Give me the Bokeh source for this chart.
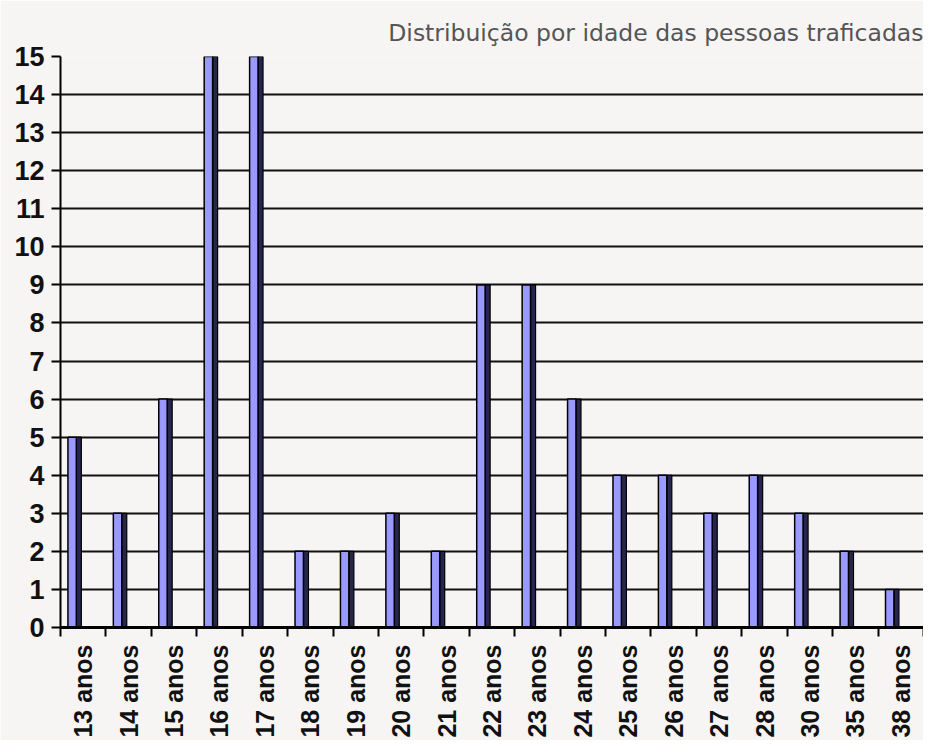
import numpy as np
from bokeh.plotting import figure
from bokeh.models import Range1d, FixedTicker
from bokeh.embed import file_html
from bokeh.resources import INLINE

title_text = "Distribuição por idade das pessoas traficadas"
categories = ["13 anos", "14 anos", "15 anos", "16 anos", "17 anos", "18 anos",
              "19 anos", "20 anos", "21 anos", "22 anos", "23 anos", "24 anos",
              "25 anos", "26 anos", "27 anos", "28 anos", "30 anos", "35 anos",
              "38 anos"]
counts = [5, 3, 6, 15, 15, 2, 2, 3, 2, 9, 9, 6, 4, 4, 3, 4, 3, 2, 1]
y_ticks = list(range(0, 16))

n = len(categories)
centers = np.arange(n) + 0.5

bg = "#f7f4f4"
p = figure(width=923, height=740, output_backend="svg", toolbar_location=None,
           x_range=Range1d(0, n), y_range=Range1d(0, 15),
           min_border_left=60, min_border_right=0, min_border_top=56,
           min_border_bottom=112)
p.background_fill_color = bg
p.border_fill_color = bg
p.outline_line_color = None

p.title.text = title_text
p.title.align = "right"
p.title.text_font = "DejaVu Sans"
p.title.text_font_style = "normal"
p.title.text_font_size = "23.5px"
p.title.text_color = "#555555"
p.title.offset = 0
p.title.standoff = 20

# side (depth) faces
p.vbar(x=centers - 0.096, top=counts, bottom=0, width=0.11,
       fill_color="#26264c", line_color="black", line_width=1.2)
# front faces
p.vbar(x=centers - 0.244, top=counts, bottom=0, width=0.185,
       fill_color="#9999ff", line_color="black", line_width=1.5)

# axes
xa = p.xaxis[0]
xa.ticker = FixedTicker(ticks=list(centers), minor_ticks=list(range(0, n + 1)))
xa.major_label_overrides = {float(c): lab for c, lab in zip(centers, categories)}
xa.major_label_orientation = np.pi / 2
xa.major_label_text_font = "Liberation Sans"
xa.major_label_text_font_style = "bold"
xa.major_label_text_font_size = "25px"
xa.major_label_text_color = "#111111"
xa.major_tick_out = 0
xa.major_tick_in = 0
xa.minor_tick_out = 9
xa.minor_tick_in = 0
xa.minor_tick_line_color = "black"
xa.minor_tick_line_width = 2
xa.axis_line_color = "black"
xa.axis_line_width = 3
xa.major_label_standoff = 8

ya = p.yaxis[0]
ya.ticker = FixedTicker(ticks=y_ticks, minor_ticks=[])
ya.major_label_text_font = "Liberation Sans"
ya.major_label_text_font_style = "bold"
ya.major_label_text_font_size = "27px"
ya.major_label_text_color = "#111111"
ya.major_tick_out = 9
ya.major_tick_in = 0
ya.major_tick_line_color = "black"
ya.major_tick_line_width = 2
ya.axis_line_color = "black"
ya.axis_line_width = 2
ya.major_label_standoff = 7

p.xgrid.grid_line_color = None
p.ygrid.ticker = FixedTicker(ticks=y_ticks[1:])
p.ygrid.grid_line_color = "#111111"
p.ygrid.grid_line_width = 2
p.ygrid.level = "underlay"

open("out.html", "w").write(file_html(p, INLINE))
